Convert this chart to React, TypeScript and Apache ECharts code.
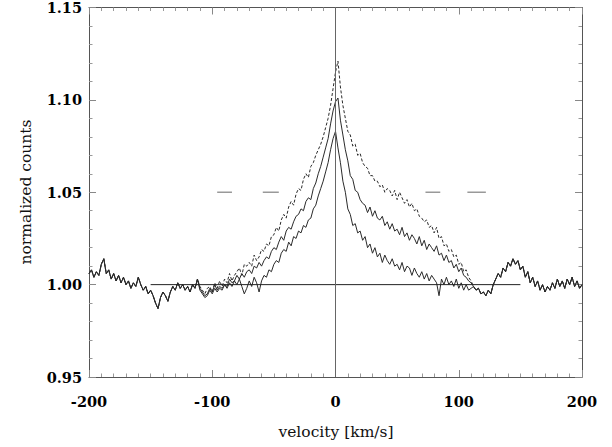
import React, { useEffect, useRef } from "react";
import * as echarts from "echarts";

// velocity grid: -200 .. 200 km/s, step 2
const velocityStart = -200;
const velocityStep = 2;

// shared wings (all three profiles coincide here)
const wingLeft = [
  1.006, 1.008, 1.004, 1.007, 1.005, 1.011, 1.014, 1.006, 1.008, 1.003,
  1.006, 1.002, 1.005, 1.001, 1.004, 1.000, 1.002, 0.998, 1.001, 0.999,
  1.004, 1.000, 0.997, 0.999, 0.995, 0.997, 0.994, 0.990, 0.987, 0.993,
  0.996, 0.994, 0.991, 0.996, 0.999, 0.997, 1.001, 0.998, 1.000, 0.997,
  0.999, 0.996, 1.000, 0.998, 1.003,
]; // -200 .. -112

const wingRight = [
  0.999, 0.997, 0.998, 0.995, 0.996, 0.994, 0.997, 0.995, 1.000, 1.003,
  1.006, 1.004, 1.009, 1.007, 1.012, 1.010, 1.014, 1.011, 1.013, 1.008,
  1.010, 1.004, 1.007, 1.001, 1.004, 0.999, 1.002, 0.997, 1.000, 0.996,
  0.999, 0.997, 1.001, 0.998, 1.003, 0.999, 1.002, 0.998, 1.003, 1.000,
  1.004, 0.999, 1.002, 0.998, 1.000,
]; // 112 .. 200

// cores -110 .. 110
const coreTop = [
  0.999, 0.997, 0.995, 0.998, 0.999, 0.996, 1.001, 0.998, 1.002, 0.999,
  1.003, 1.001, 1.006, 1.002, 1.005, 1.007, 1.009, 1.005, 1.011, 1.010,
  1.012, 1.010, 1.016, 1.013, 1.015, 1.019, 1.018, 1.022, 1.021, 1.026,
  1.027, 1.031, 1.029, 1.035, 1.038, 1.036, 1.042, 1.045, 1.043, 1.049,
  1.052, 1.051, 1.057, 1.060, 1.058, 1.064, 1.066, 1.070, 1.073, 1.076,
  1.080, 1.085, 1.090, 1.097, 1.106, 1.115, 1.121, 1.107, 1.097, 1.090,
  1.083, 1.081, 1.075, 1.076, 1.070, 1.071, 1.066, 1.064, 1.063, 1.059,
  1.059, 1.056, 1.056, 1.053, 1.054, 1.050, 1.052, 1.051, 1.048, 1.051,
  1.046, 1.050, 1.047, 1.044, 1.046, 1.042, 1.044, 1.040, 1.041, 1.037,
  1.036, 1.034, 1.035, 1.031, 1.032, 1.028, 1.031, 1.025, 1.026, 1.021,
  1.022, 1.018, 1.019, 1.015, 1.016, 1.011, 1.012, 1.007, 1.008, 1.004,
  1.002,
];

const coreMid = [
  0.998, 0.996, 0.994, 0.995, 0.998, 0.996, 1.000, 0.997, 0.999, 0.998,
  1.000, 0.999, 1.003, 1.001, 1.002, 1.005, 1.003, 1.006, 1.004, 1.007,
  1.008, 1.006, 1.010, 1.009, 1.012, 1.010, 1.013, 1.015, 1.014, 1.018,
  1.020, 1.019, 1.023, 1.026, 1.024, 1.029, 1.031, 1.030, 1.034, 1.037,
  1.038, 1.041, 1.040, 1.045, 1.047, 1.046, 1.052, 1.055, 1.060, 1.064,
  1.069, 1.074, 1.079, 1.087, 1.094, 1.099, 1.101, 1.089, 1.081, 1.073,
  1.067, 1.059, 1.057, 1.051, 1.050, 1.046, 1.044, 1.043, 1.039, 1.042,
  1.037, 1.040, 1.036, 1.035, 1.037, 1.032, 1.034, 1.030, 1.033, 1.029,
  1.030, 1.027, 1.031, 1.026, 1.028, 1.024, 1.027, 1.025, 1.022, 1.026,
  1.021, 1.024, 1.019, 1.022, 1.020, 1.018, 1.021, 1.016, 1.017, 1.013,
  1.016, 1.012, 1.013, 1.009, 1.011, 1.007, 1.009, 1.005, 1.004, 1.002,
  1.001,
];

const coreLow = [
  0.997, 0.995, 0.993, 0.994, 0.997, 0.995, 0.998, 0.996, 0.998, 0.997,
  1.000, 0.998, 1.001, 0.999, 1.002, 1.000, 1.003, 0.999, 0.995, 0.998,
  1.002, 0.999, 1.004, 1.001, 0.996, 1.002, 1.005, 1.004, 1.008, 1.007,
  1.011, 1.013, 1.012, 1.017, 1.019, 1.018, 1.023, 1.021, 1.026, 1.025,
  1.029, 1.028, 1.032, 1.031, 1.035, 1.036, 1.041, 1.043, 1.048, 1.052,
  1.056, 1.061, 1.066, 1.073, 1.079, 1.083, 1.074, 1.066, 1.056, 1.050,
  1.041, 1.038, 1.032, 1.033, 1.028, 1.029, 1.024, 1.026, 1.020, 1.022,
  1.017, 1.020, 1.015, 1.017, 1.012, 1.016, 1.013, 1.011, 1.014, 1.010,
  1.011, 1.008, 1.012, 1.007, 1.010, 1.009, 1.005, 1.009, 1.006, 1.004,
  1.007, 1.003, 1.006, 1.002, 1.005, 1.003, 1.001, 0.994, 1.003, 1.000,
  1.004, 1.000, 1.002, 0.999, 1.003, 0.998, 1.001, 0.997, 1.000, 0.997,
  0.998,
];

const xTicks = [-200, -100, 0, 100, 200];
const yTicks = [0.95, 1.0, 1.05, 1.1, 1.15];
const continuumLevel = 1.0;
const continuumRange = [-150, 150];
const markLevel = 1.05;
const markSegments = [
  [-96, -84],
  [-59, -46],
  [73, 85],
  [107, 122],
];

const FONT = "DejaVu Serif";

function toSeries(core: number[]) {
  const vals = [...wingLeft, ...core, ...wingRight];
  return vals.map((y, i) => [velocityStart + i * velocityStep, y]);
}

export default function App() {
  const ref = useRef<HTMLDivElement>(null);
  useEffect(() => {
    if (!ref.current) return;
    const chart = echarts.init(ref.current, null, { renderer: "svg" });
    const curveColor = "#2a2a2a";
    const axisCommon = {
      type: "value" as const,
      min: xTicks[0],
      max: xTicks[xTicks.length - 1],
      interval: 100,
      splitLine: { show: false },
      axisLine: { show: true, onZero: false, lineStyle: { color: "#555", width: 1 } },
      axisTick: { show: true, inside: true, length: 7, lineStyle: { color: "#888" } },
      minorTick: { show: true, splitNumber: 10, length: 3.5, lineStyle: { color: "#999" } },
    };
    const yCommon = {
      type: "value" as const,
      min: yTicks[0],
      max: yTicks[yTicks.length - 1],
      interval: 0.05,
      scale: true,
      splitLine: { show: false },
      axisLine: { show: true, onZero: false, lineStyle: { color: "#555", width: 1 } },
      axisTick: { show: true, inside: true, length: 7, lineStyle: { color: "#888" } },
      minorTick: { show: true, splitNumber: 5, length: 3.5, lineStyle: { color: "#999" } },
    };
    chart.setOption({
      animation: false,
      backgroundColor: "#fff",
      grid: { left: 89, right: 30, top: 7, bottom: 70, containLabel: false },
      xAxis: [
        {
          ...axisCommon,
          position: "bottom",
          axisLabel: {
            show: true,
            margin: 17,
            fontSize: 14.5,
            fontWeight: "bold",
            color: "#000",
            fontFamily: FONT,
            formatter: (v: number) => String(v),
          },
        },
        { ...axisCommon, position: "top", axisLabel: { show: false } },
      ],
      yAxis: [
        {
          ...yCommon,
          position: "left",
          axisLabel: {
            show: true,
            margin: 7,
            fontSize: 14.5,
            fontWeight: "bold",
            color: "#000",
            fontFamily: FONT,
            formatter: (v: number) => v.toFixed(2),
          },
        },
        { ...yCommon, position: "right", axisLabel: { show: false } },
      ],
      graphic: [
        {
          type: "text",
          x: 26,
          y: 192,
          rotation: Math.PI / 2,
          style: {
            text: "normalized counts",
            fontSize: 15.5,
            fontFamily: FONT,
            fill: "#111",
            textAlign: "center",
            textVerticalAlign: "middle",
          },
        },
        {
          type: "text",
          x: 336,
          y: 432,
          style: {
            text: "velocity [km/s]",
            fontSize: 15.5,
            fontFamily: FONT,
            fill: "#111",
            textAlign: "center",
            textVerticalAlign: "middle",
          },
        },
      ],
      series: [
        ...markSegments.map((seg) => ({
          type: "line",
          xAxisIndex: 0,
          yAxisIndex: 0,
          data: [
            [seg[0], markLevel],
            [seg[1], markLevel],
          ],
          symbol: "none",
          silent: true,
          lineStyle: { color: "#999", width: 1.3 },
        })),
        {
          type: "line",
          data: toSeries(coreTop),
          symbol: "none",
          silent: true,
          lineStyle: { color: curveColor, width: 1, type: [3, 2] },
        },
        {
          type: "line",
          data: toSeries(coreMid),
          symbol: "none",
          silent: true,
          lineStyle: { color: curveColor, width: 1 },
        },
        {
          type: "line",
          data: toSeries(coreLow),
          symbol: "none",
          silent: true,
          lineStyle: { color: curveColor, width: 1 },
        },
        {
          type: "line",
          data: [
            [continuumRange[0], continuumLevel],
            [continuumRange[1], continuumLevel],
          ],
          symbol: "none",
          silent: true,
          lineStyle: { color: "#222", width: 1 },
        },
        {
          type: "line",
          data: [
            [0, yTicks[0]],
            [0, yTicks[yTicks.length - 1]],
          ],
          symbol: "none",
          silent: true,
          lineStyle: { color: "#666", width: 1 },
        },
      ],
    });
    return () => chart.dispose();
  }, []);
  return (
    <div
      ref={ref}
      style={{ position: "fixed", left: 0, top: 0, width: 612, height: 447 }}
    />
  );
}
